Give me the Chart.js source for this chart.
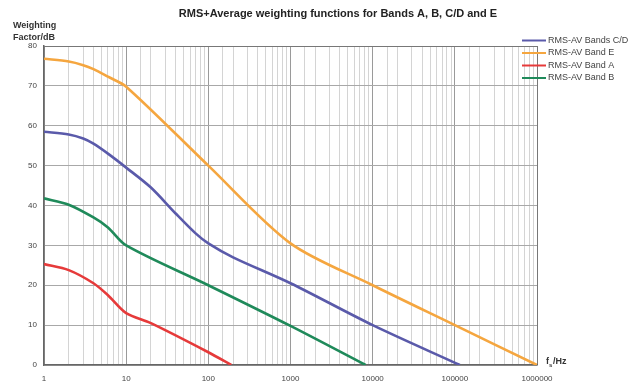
<!DOCTYPE html>
<html>
<head>
<meta charset="utf-8">
<script src="https://cdn.jsdelivr.net/npm/chart.js@4.4.1/dist/chart.umd.min.js"></script>
<style>
    html, body { margin: 0; padding: 0; background: #fff; }
    #wrap { width: 643px; height: 387px; position: relative; }
</style>
</head>
<body>
<div id="wrap"><canvas id="Canvas-Main"></canvas></div>
<script>
// values (frequency in Hz, weighting factor in dB)
var chartTitle = 'RMS+Average weighting functions for Bands A, B, C/D and E';
var seriesLabels = ['RMS-AV Bands C/D', 'RMS-AV Band E', 'RMS-AV Band A', 'RMS-AV Band B'];
var seriesColors = ['#5a5aaa', '#f5a63f', '#e63a3a', '#1f8a5a'];

var bandCDFreq = [1, 2, 3, 4, 6, 10, 20, 40, 70, 100, 200, 1000, 10000, 115000];
var bandCDLevel = [58.5, 57.8, 56.8, 55.5, 53, 49.5, 44.5, 38, 33, 30.5, 27, 20.5, 10, 0];

var bandEFreq = [1, 2, 3, 4, 6, 10, 100, 1000, 10000, 100000, 1000000];
var bandELevel = [76.8, 76.1, 75.2, 74.2, 72.3, 69.8, 50, 30.5, 20, 10, 0];

var bandAFreq = [1, 2, 4, 6, 10, 20, 100, 190];
var bandALevel = [25.3, 23.8, 20.5, 17.5, 13, 10.5, 3.2, 0];

var bandBFreq = [1, 2, 4, 6, 10, 100, 1000, 8200];
var bandBLevel = [41.8, 40.2, 37, 34.5, 30, 20, 9.8, 0];

var xMin = 1, xMax = 1000000;
var yMin = 0, yMax = 80, yStep = 10;

function toPoints(xs, ys) {
    return xs.map(function (x, i) { return { x: x, y: ys[i] }; });
}

function isDecade(v) {
    var l = Math.log10(v);
    return Math.abs(l - Math.round(l)) < 1e-6;
}

var allFreq = [bandCDFreq, bandEFreq, bandAFreq, bandBFreq];
var allLevel = [bandCDLevel, bandELevel, bandALevel, bandBLevel];

var datasets = seriesLabels.map(function (label, i) {
    return {
        label: label,
        data: toPoints(allFreq[i], allLevel[i]),
        borderColor: seriesColors[i],
        backgroundColor: seriesColors[i],
        borderWidth: 2.6,
        pointRadius: 0,
        tension: 0.3,
        fill: false
    };
});

var FONT = '"Liberation Sans", Arial, sans-serif';

// title, legend and axis captions sit outside the plot, drawn by hand
var extraText = {
    id: 'extraText',
    afterDraw: function (chart) {
        var ctx = chart.ctx;
        ctx.save();
        ctx.textBaseline = 'middle';
        ctx.fillStyle = '#222';
        ctx.textAlign = 'center';
        ctx.font = 'bold 11px ' + FONT;
        ctx.fillText(chartTitle, 338, 14);

        ctx.fillStyle = '#333';
        ctx.textAlign = 'left';
        ctx.font = 'bold 9px ' + FONT;
        ctx.fillText('Weighting', 13, 26);
        ctx.fillText('Factor/dB', 13, 38);

        ctx.fillText('f', 546, 362);
        ctx.font = 'bold 6px ' + FONT;
        ctx.fillText('s', 549, 365);
        ctx.font = 'bold 9px ' + FONT;
        ctx.fillText('/Hz', 553, 362);

        ctx.font = '9px ' + FONT;
        chart.data.datasets.forEach(function (ds, i) {
            var y = 40.5 + i * 12.5;
            ctx.strokeStyle = ds.borderColor;
            ctx.lineWidth = 2;
            ctx.beginPath();
            ctx.moveTo(522, y);
            ctx.lineTo(546, y);
            ctx.stroke();
            ctx.fillStyle = '#444';
            ctx.fillText(ds.label, 548, y);
        });
        ctx.restore();
    }
};

var ctx = document.getElementById('Canvas-Main').getContext('2d');
var myChart = new Chart(ctx, {
    type: 'line',
    data: { datasets: datasets },
    options: {
        responsive: true,
        maintainAspectRatio: false,
        animation: false,
        layout: {
            padding: { left: 0, right: 106, top: 46, bottom: 0 }
        },
        plugins: {
            legend: { display: false },
            tooltip: { enabled: false },
            title: { display: false }
        },
        scales: {
            x: {
                type: 'logarithmic',
                min: xMin,
                max: xMax,
                afterFit: function (scale) { scale.height = 22; },
                border: { color: '#666', width: 1.5 },
                grid: {
                    drawTicks: false,
                    color: function (c) {
                        var v = c.tick.value;
                        if (v === xMax) return '#777';
                        return isDecade(v) ? '#9a9a9a' : '#d4d4d4';
                    }
                },
                ticks: {
                    autoSkip: false,
                    maxRotation: 0,
                    padding: 9,
                    color: '#444',
                    font: { family: FONT, size: 8 },
                    callback: function (v) {
                        return isDecade(v) ? String(Math.round(v)) : '';
                    }
                }
            },
            y: {
                min: yMin,
                max: yMax,
                afterFit: function (scale) { scale.width = 44; },
                border: { color: '#666', width: 1.5 },
                grid: {
                    drawTicks: false,
                    color: function (c) {
                        return c.tick.value === yMax ? '#777' : '#a8a8a8';
                    }
                },
                ticks: {
                    stepSize: yStep,
                    padding: 7,
                    color: '#444',
                    font: { family: FONT, size: 8 }
                }
            }
        }
    },
    plugins: [extraText]
});
</script>
</body>
</html>
